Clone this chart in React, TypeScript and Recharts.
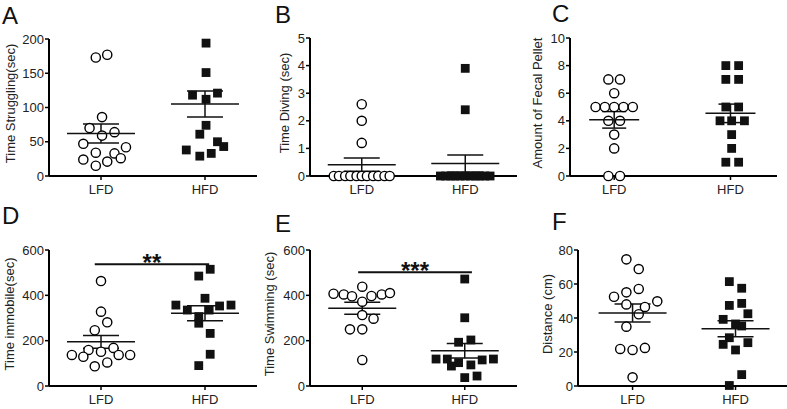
import React from "react";
import { ScatterChart, Scatter, XAxis, YAxis, ErrorBar, ReferenceLine } from "recharts";

const FONT = "'Liberation Sans', Arial, Helvetica, sans-serif";
const groups = ["LFD", "HFD"];

const strugglingLfd = [
  [0.95, 173], [1.06, 177], [1.01, 86], [0.89, 70], [1.13, 64], [1.01, 59], [0.83, 47],
  [1.24, 42], [0.95, 34], [1.13, 33], [0.83, 24], [1.19, 26], [1.06, 21], [0.95, 15],
];
const strugglingHfd = [
  [2.01, 194], [2.01, 151], [1.88, 118], [2.12, 121], [2.01, 112], [2.01, 74],
  [1.95, 61], [2.12, 50], [2.18, 43], [1.82, 38], [2.06, 33], [1.95, 29],
];
const strugglingMean = [62, 105];
const strugglingSem = [14, 19];

const divingLfd = [
  [1, 2.6], [1, 2.0], [1, 1.2],
  [0.73, 0], [0.78, 0], [0.84, 0], [0.89, 0], [0.95, 0], [1.0, 0],
  [1.05, 0], [1.11, 0], [1.16, 0], [1.22, 0], [1.27, 0],
];
const divingHfd = [
  [2, 3.9], [2, 2.4],
  [1.76, 0], [1.81, 0], [1.86, 0], [1.9, 0], [1.95, 0], [2.0, 0],
  [2.05, 0], [2.1, 0], [2.14, 0], [2.19, 0], [2.24, 0],
];
const divingMean = [0.41, 0.45];
const divingSem = [0.24, 0.31];

const pelletLfd = [
  [0.95, 7], [1.05, 7], [1, 6], [0.84, 5], [0.92, 5], [1, 5], [1.08, 5],
  [1.16, 5], [0.95, 4], [1.05, 4], [1, 3], [1, 2], [0.95, 0], [1.05, 0],
];
const pelletHfd = [
  [1.96, 8], [2.07, 8], [1.96, 7], [2.07, 7], [1.96, 5], [2.07, 5], [1.91, 4],
  [2.01, 4], [2.12, 4], [2.01, 3], [2.01, 2], [1.96, 1], [2.07, 1],
];
const pelletMean = [4.07, 4.54];
const pelletSem = [0.6, 0.67];

const immobileLfd = [
  [1, 463], [1, 328], [1.06, 281], [0.94, 246], [0.88, 159], [1.12, 168], [1, 151],
  [0.72, 137], [0.83, 129], [1.17, 137], [1.28, 137], [1.06, 104], [0.94, 87],
];
const immobileHfd = [
  [2.05, 515], [1.94, 485], [2, 387], [1.72, 357], [2.25, 357], [2.14, 353], [1.83, 335],
  [2.04, 335], [1.94, 306], [1.94, 277], [2.05, 232], [2.05, 140], [1.94, 90],
];
const immobileMean = [195, 321];
const immobileSem = [28, 33];

const swimmingLfd = [
  [1, 438], [0.72, 407], [0.82, 404], [0.9, 396], [1.09, 397], [1.19, 404], [1.27, 410],
  [1, 372], [1, 313], [1.11, 297], [0.88, 250], [1, 250], [1, 115],
];
const swimmingHfd = [
  [2, 472], [2, 301], [1.94, 193], [2.06, 203], [1.72, 119], [1.83, 119], [1.94, 103],
  [1.87, 88], [2.06, 93], [2.17, 115], [2.28, 119], [2, 37], [2.12, 44],
];
const swimmingMean = [343, 155];
const swimmingSem = [27, 32];

const distanceLfd = [
  [0.94, 74.5], [1.06, 68.8], [0.94, 55.1], [1.06, 57.1], [0.82, 52.5], [1.24, 49.8], [0.94, 48],
  [1.12, 46.5], [1.06, 42.2], [0.94, 34.9], [0.88, 21.8], [1, 21.2], [1.12, 22.4], [1, 5.1],
];
const distanceHfd = [
  [1.94, 61.4], [2.06, 57.5], [1.94, 47.4], [2.06, 48.6], [2.12, 42.5], [1.88, 39.2], [2, 36.5],
  [2.06, 35.3], [1.94, 28.4], [1.88, 24.5], [2.12, 25.5], [2, 21.2], [2.06, 6.7], [1.94, 0.3],
];
const distanceMean = [43, 33.7];
const distanceSem = [5.3, 4.7];

const YW = 50;
const MT = 12;
const MR = 2;
const XH = 30;

const panels = [
  { letter: "A", lx: 2, ly: 4, label: "Time Struggling(sec)", gap: 39, axisX: 49, xEnd: 257, topY: 39, bottomY: 176, xDomain: [0.5, 2.5], yMax: 200, yTicks: [0, 50, 100, 150, 200], lfd: strugglingLfd, hfd: strugglingHfd, mean: strugglingMean, sem: strugglingSem, half: 34, whisker: 18 },
  { letter: "B", lx: 275, ly: 3, label: "Time Diving (sec)", gap: 26, axisX: 310, xEnd: 517, topY: 38, bottomY: 176, xDomain: [0.5, 2.5], yMax: 5, yTicks: [0, 1, 2, 3, 4, 5], lfd: divingLfd, hfd: divingHfd, mean: divingMean, sem: divingSem, half: 34, whisker: 18 },
  { letter: "C", lx: 552, ly: 2, label: "Amount of Fecal Pellet", gap: 33, axisX: 570, xEnd: 777, topY: 38, bottomY: 176, xDomain: [0.62, 2.4], yMax: 10, yTicks: [0, 2, 4, 6, 8, 10], lfd: pelletLfd, hfd: pelletHfd, mean: pelletMean, sem: pelletSem, half: 25, whisker: 12 },
  { letter: "D", lx: 2, ly: 204, label: "Time immobile(sec)", gap: 40, axisX: 49, xEnd: 257, topY: 250, bottomY: 386, xDomain: [0.5, 2.5], yMax: 600, yTicks: [0, 200, 400, 600], lfd: immobileLfd, hfd: immobileHfd, mean: immobileMean, sem: immobileSem, half: 34, whisker: 18, sig: { from: 0.94, to: 2.04, y: 537, stars: "**" } },
  { letter: "E", lx: 275, ly: 212, label: "Time Swimming (sec)", gap: 41, axisX: 310, xEnd: 517, topY: 250, bottomY: 386, xDomain: [0.49, 2.51], yMax: 600, yTicks: [0, 200, 400, 600], lfd: swimmingLfd, hfd: swimmingHfd, mean: swimmingMean, sem: swimmingSem, half: 34, whisker: 18, sig: { from: 0.96, to: 2.07, y: 502, stars: "***" } },
  { letter: "F", lx: 552, ly: 210, label: "Distance (cm)", gap: 31, axisX: 578, xEnd: 787, topY: 250, bottomY: 386, xDomain: [0.47, 2.5], yMax: 80, yTicks: [0, 20, 40, 60, 80], lfd: distanceLfd, hfd: distanceHfd, mean: distanceMean, sem: distanceSem, half: 34, whisker: 18 },
];

const OpenCircle = (props: any) => (
  <circle cx={props.cx} cy={props.cy} r={4.6} fill="#fff" stroke="#000" strokeWidth={1.4} />
);

const FilledSquare = (props: any) => (
  <rect x={props.cx - 4.4} y={props.cy - 4.4} width={8.8} height={8.8} fill="#111" />
);

function YLabel({ viewBox, text, gap }: any) {
  const x = viewBox.x + viewBox.width - gap;
  const y = viewBox.y + viewBox.height / 2 - 4;
  return (
    <text
      x={x}
      y={y}
      transform={`rotate(-90, ${x}, ${y})`}
      textAnchor="middle"
      dominantBaseline="central"
      fontSize={13}
      fontFamily={FONT}
      fill="#222"
    >
      {text}
    </text>
  );
}

function Stars({ viewBox, text }: any) {
  return (
    <text
      x={viewBox.x + viewBox.width / 2}
      y={viewBox.y + 7}
      textAnchor="middle"
      fontSize={24}
      fontWeight="bold"
      fontFamily={FONT}
      fill="#111"
    >
      {text}
    </text>
  );
}

function Panel({ p }: { p: any }) {
  const width = YW + (p.xEnd - p.axisX) + MR;
  const height = MT + (p.bottomY - p.topY) + XH;
  const lfd = p.lfd.map(([x, y]: number[]) => ({ x, y }));
  const hfd = p.hfd.map(([x, y]: number[]) => ({ x, y }));
  const means = p.mean.map((m: number, i: number) => ({ x: i + 1, y: m, err: p.sem[i] }));
  const meanLine = (props: any) => (
    <line x1={props.cx - p.half} x2={props.cx + p.half} y1={props.cy} y2={props.cy} stroke="#111" strokeWidth={1.5} />
  );
  const axisLine = { stroke: "#000", strokeWidth: 2 };
  const tickLine = { stroke: "#000", strokeWidth: 1.5 };
  const tick = { fill: "#222", fontSize: 13, fontFamily: FONT };

  return (
    <div style={{ position: "absolute", left: p.axisX - YW, top: p.topY - MT }}>
      <ScatterChart width={width} height={height} margin={{ top: MT, right: MR, left: 0, bottom: 0 }}>
        <XAxis
          type="number"
          dataKey="x"
          domain={p.xDomain}
          ticks={[1, 2]}
          tickFormatter={(v: number) => groups[v - 1]}
          height={XH}
          axisLine={axisLine}
          tickLine={tickLine}
          tickSize={4}
          tickMargin={5}
          tick={tick}
        />
        <YAxis
          type="number"
          dataKey="y"
          domain={[0, p.yMax]}
          ticks={p.yTicks}
          width={YW}
          axisLine={axisLine}
          tickLine={tickLine}
          tickSize={4}
          tickMargin={1}
          tick={tick}
          label={<YLabel text={p.label} gap={p.gap} />}
        />
        {p.sig && (
          <ReferenceLine
            segment={[{ x: p.sig.from, y: p.sig.y }, { x: p.sig.to, y: p.sig.y }]}
            stroke="#111"
            strokeWidth={2}
            label={<Stars text={p.sig.stars} />}
          />
        )}
        <Scatter data={lfd} shape={OpenCircle} isAnimationActive={false} />
        <Scatter data={hfd} shape={FilledSquare} isAnimationActive={false} />
        <Scatter data={means} shape={meanLine} isAnimationActive={false}>
          <ErrorBar dataKey="err" direction="y" width={p.whisker} stroke="#111" strokeWidth={1.5} isAnimationActive={false} />
        </Scatter>
      </ScatterChart>
    </div>
  );
}

export default function App() {
  return (
    <div
      style={{
        position: "absolute",
        left: 0,
        top: 0,
        width: 787,
        height: 409,
        overflow: "hidden",
        background: "#fff",
        fontFamily: FONT,
      }}
    >
      {panels.map((p) => (
        <React.Fragment key={p.letter}>
          <Panel p={p} />
          <div
            style={{
              position: "absolute",
              left: p.lx,
              top: p.ly,
              fontSize: 24,
              lineHeight: "24px",
              color: "#111",
            }}
          >
            {p.letter}
          </div>
        </React.Fragment>
      ))}
    </div>
  );
}
